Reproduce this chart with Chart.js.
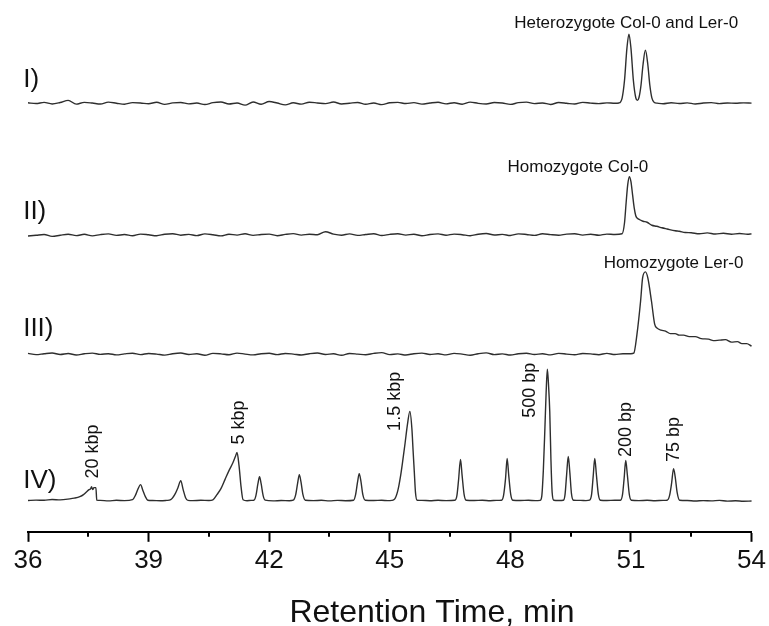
<!DOCTYPE html>
<html><head><meta charset="utf-8">
<script src="https://cdn.jsdelivr.net/npm/chart.js@4.4.1/dist/chart.umd.min.js"></script>
<style>html,body{margin:0;padding:0;background:#fff;}#wrap{width:769px;height:626px;}</style>
</head><body><div id="wrap"><canvas id="c" width="769" height="626"></canvas></div>
<script>
// ---------- DATA ----------
const xTicks = [36, 39, 42, 45, 48, 51, 54];
const minorTicks = [37.5, 40.5, 43.5, 46.5, 49.5, 52.5];
const axisTitle = 'Retention Time, min';
const traceLabels = ['I)', 'II)', 'III)', 'IV)'];
const peakNotes = ['Heterozygote Col-0 and Ler-0', 'Homozygote Col-0', 'Homozygote Ler-0'];
const ladderNotes = ['20 kbp', '5 kbp', '1.5 kbp', '500 bp', '200 bp', '75 bp'];

// Trace I : heterozygote (time, min / signal)
const t1 = [
 36.0,36.2,36.4,36.6,36.8,37.0,37.2,37.4,37.6,37.8,
 38.0,38.2,38.4,38.6,38.8,39.0,39.2,39.4,39.6,39.8,
 40.0,40.2,40.4,40.6,40.8,41.0,41.2,41.4,41.6,41.8,
 42.0,42.2,42.4,42.6,42.8,43.0,43.2,43.4,43.6,43.8,
 44.0,44.2,44.4,44.6,44.8,45.0,45.2,45.4,45.6,45.8,
 46.0,46.2,46.4,46.6,46.8,47.0,47.2,47.4,47.6,47.8,
 48.0,48.2,48.4,48.6,48.8,49.0,49.2,49.4,49.6,49.8,
 50.0,50.2,50.4,50.6,50.7,50.78,50.84,50.9,50.95,51.0,
 51.06,51.12,51.16,51.2,51.25,51.3,51.36,51.42,51.47,51.52,
 51.58,51.65,51.8,52.0,52.2,52.4,52.6,52.8,53.0,53.2,
 53.4,53.6,53.8,54.0];
const s1 = [
 0.6,-0.2,1.0,-0.6,0.8,3.0,-0.8,1.0,0.3,-0.7,
 1.2,0.1,-0.9,0.7,0.4,-0.4,1.1,-1.0,0.5,0.9,
 -0.5,0.3,-1.2,0.7,1.3,-0.6,0.4,-1.8,1.4,-0.9,
 1.8,0.3,-1.5,0.6,-0.8,1.1,0.4,-0.3,1.3,-0.6,
 0.1,0.9,-0.9,0.4,-1.3,0.6,1.0,-0.2,0.7,-0.8,
 0.3,1.1,-0.5,0.6,-0.9,1.2,0.0,-0.6,0.8,0.3,
 -1.0,0.7,1.2,-0.3,0.4,-1.1,0.8,0.1,-0.7,1.0,
 0.2,-0.3,0.5,0.1,0.4,5.3,23,55,69,55,
 23,5.6,3.0,5.8,18,38.5,53,38.5,18,5.5,
 0.9,0.2,-0.4,0.6,-0.2,0.5,-0.6,0.3,0.7,-0.3,
 0.4,0.1,0.5,0.2];

// Trace II : homozygote Col-0
const t2 = [
 36.0,36.2,36.4,36.6,36.8,37.0,37.2,37.4,37.6,37.8,
 38.0,38.2,38.4,38.6,38.8,39.0,39.2,39.4,39.6,39.8,
 40.0,40.2,40.4,40.6,40.8,41.0,41.2,41.4,41.6,41.8,
 42.0,42.2,42.4,42.6,42.8,43.0,43.2,43.4,43.6,43.8,
 44.0,44.2,44.4,44.6,44.8,45.0,45.2,45.4,45.6,45.8,
 46.0,46.2,46.4,46.6,46.8,47.0,47.2,47.4,47.6,47.8,
 48.0,48.2,48.4,48.6,48.8,49.0,49.2,49.4,49.6,49.8,
 50.0,50.2,50.4,50.6,50.78,50.84,50.88,50.92,50.96,51.0,
 51.04,51.08,51.12,51.16,51.22,51.3,51.4,51.52,51.64,51.77,
 51.9,52.1,52.2,52.35,52.5,52.7,52.9,53.1,53.3,53.5,
 53.7,53.9,54.0];
const s2 = [
 -1.2,-0.5,0.3,-1.6,-0.4,0.6,-0.8,0.5,-1.1,0.2,
 0.9,-0.6,0.3,-1.0,0.7,0.0,-0.9,0.6,1.1,-0.4,
 0.4,-0.8,0.9,0.1,-1.1,0.6,-0.3,1.0,-0.6,0.3,
 0.7,-0.9,0.4,1.2,-0.3,0.6,0.1,3.0,0.7,-0.4,
 0.9,-0.6,0.3,1.1,-0.7,0.4,1.0,-0.3,0.6,-1.0,
 0.3,0.9,-0.4,0.7,0.1,-0.9,0.6,1.3,-0.2,0.4,
 -0.7,0.9,0.3,-0.6,1.1,0.2,-0.4,0.7,1.0,-0.3,
 0.6,-0.4,0.7,0.3,1.0,12,32,50,58,53,
 40,27,19,16.5,15,13.5,12.5,9.5,8.5,7,
 5.8,4,3.5,2.3,2.0,1.0,1.9,0.8,1.5,0.6,
 1.3,0.5,0.9];

// Trace III : homozygote Ler-0
const t3 = [
 36.0,36.2,36.4,36.6,36.8,37.0,37.2,37.4,37.6,37.8,
 38.0,38.2,38.4,38.6,38.8,39.0,39.2,39.4,39.6,39.8,
 40.0,40.2,40.4,40.6,40.8,41.0,41.2,41.4,41.6,41.8,
 42.0,42.2,42.4,42.6,42.8,43.0,43.2,43.4,43.6,43.8,
 44.0,44.2,44.4,44.6,44.8,45.0,45.2,45.4,45.6,45.8,
 46.0,46.2,46.4,46.6,46.8,47.0,47.2,47.4,47.6,47.8,
 48.0,48.2,48.4,48.6,48.8,49.0,49.2,49.4,49.6,49.8,
 50.0,50.2,50.4,50.6,50.8,51.0,51.07,51.15,51.24,51.29,
 51.36,51.42,51.51,51.59,51.65,51.75,51.86,51.98,52.1,52.2,
 52.31,52.45,52.6,52.75,52.93,53.05,53.2,53.35,53.5,53.65,
 53.76,53.88,54.0];
const s3 = [
 0.8,-0.4,0.5,1.2,-0.3,0.7,-0.8,0.4,1.1,-0.2,
 0.5,-0.7,0.3,1.0,-0.4,0.7,0.1,-0.9,0.5,1.2,
 -0.3,0.4,-1.0,0.8,0.3,-0.6,1.1,0.1,-0.7,0.4,
 0.9,-0.4,0.7,0.1,-0.8,0.5,1.2,-0.3,0.4,-1.1,
 0.7,0.1,-0.6,0.8,1.6,-0.4,0.3,-0.8,0.5,1.1,
 -0.3,0.4,-0.7,0.8,0.1,-1.0,0.5,1.3,-0.4,0.3,
 -0.8,0.5,0.9,-0.3,0.4,-0.7,0.8,0.1,-0.6,0.7,
 0.3,-0.5,0.8,-0.3,0.5,0.4,1.0,20,53,76,
 82,76,53,30,26,24,23,20.5,20.5,19,
 19,17.5,17.5,15.5,15,13.5,14,14.5,12,12.5,
 10.5,10.5,8];

// Trace IV : size ladder
const t4 = [
 36.0,36.2,36.4,36.6,36.8,
 37.04,37.15,37.29,37.38,37.46,37.52,37.56,37.58,37.61,37.64,37.69,37.71,
 37.8,38.0,38.2,38.4,
 38.6,38.68,38.74,38.8,38.86,38.92,38.98,
 39.1,39.3,39.45,
 39.55,39.65,39.73,39.8,39.86,39.92,39.98,
 40.1,40.3,40.5,
 40.6,40.7,40.8,40.9,41.0,41.1,41.16,41.2,41.25,41.3,41.35,
 41.45,41.55,
 41.62,41.67,41.72,41.76,41.8,41.85,41.9,
 42.1,42.3,42.5,
 42.6,42.66,42.71,42.75,42.79,42.84,42.9,
 43.1,43.3,43.5,43.7,43.9,
 44.1,44.15,44.2,44.24,44.28,44.33,44.39,
 44.6,44.8,44.95,
 45.05,45.12,45.2,45.27,45.32,45.38,45.44,45.5,45.55,45.58,45.61,45.64,45.68,
 45.8,46.0,46.2,46.4,
 46.62,46.67,46.71,46.76,46.8,46.85,46.9,
 47.1,47.3,47.5,47.65,
 47.78,47.83,47.88,47.92,47.96,48.01,48.06,
 48.25,48.45,48.62,
 48.74,48.78,48.82,48.86,48.89,48.92,48.95,48.98,49.01,49.04,49.08,
 49.2,
 49.32,49.36,49.4,49.44,49.48,49.52,49.57,
 49.75,49.88,
 49.97,50.02,50.06,50.1,50.14,50.19,50.24,
 50.4,50.6,
 50.74,50.79,50.83,50.87,50.91,50.96,51.01,
 51.2,51.4,51.6,51.8,
 51.9,51.96,52.01,52.06,52.1,52.15,52.21,
 52.4,52.6,52.8,53.0,53.2,53.4,53.6,53.8,54.0];
const s4 = [
 0.2,0.6,0.4,1.2,0.8,
 1.8,2.5,4,6,9,11,12,14,11,13,13,0.6,
 0.3,-0.2,0.4,0.1,
 1,6,12,16,10,4,0.5,
 0.2,-0.1,0.3,
 1,6,13,20,11,3,0.3,
 0.1,0.4,0.2,
 0.8,6,12,21,30,38,44,48,35,14,1,
 0,0.3,
 0.5,5,17,24,17,5,0.5,
 -0.2,0.2,0,
 0.5,6,18,26,19,6,0.5,
 0.1,0.4,-0.2,0.3,0,
 0.5,6,19,27,20,6,0.5,
 0.2,0.4,0.1,
 0.3,1.5,10,25,39,57,76,89,72,50,29,8,0.5,
 0.3,0,0.4,0.1,
 0.5,5,20,41,25,6,0.5,
 0.2,0.5,0,0.3,
 0.5,5,22,42,25,6,0.5,
 0.2,0.4,0.1,
 0.3,4,30,73,108,131,115,89,40,8,0.5,
 0.2,
 0.5,6,26,44,28,7,0.5,
 0.3,0.1,
 0.5,6,24,42,26,6,0.5,
 0.2,0.4,
 0.5,6,22,40,26,6,0.5,
 0.1,0.4,0,0.3,
 0.5,5,17,32,24,8,0.5,
 0.2,-0.3,0.1,-0.2,0.3,-0.4,-0.1,-0.5,-0.3];

// ---------- LAYOUT / STYLE ----------
const FONT = "'Liberation Sans', Arial, Helvetica, sans-serif";
const traceOffsets = [427, 296, 177, 31];          // vertical stacking of the traces (y-units)
const romanAnchors = [[35.88, 443.5], [35.88, 312], [35.88, 195], [35.88, 44]];
const peakAnchors = [[50.88, 501.7], [49.68, 359], [52.06, 263.3]];
const ladderAnchors = [[37.61, 80], [41.26, 109], [45.14, 130], [48.49, 141], [50.87, 102], [52.06, 92]];
const titleAnchor = [46.05, -90];

function series(t, s, off) {
  const n = Math.min(t.length, s.length);
  const out = [];
  for (let i = 0; i < n; i++) out.push({ x: t[i], y: s[i] + off });
  return out;
}

const overlay = {
  id: 'overlay',
  afterDraw(chart) {
    const { ctx, scales: { x, y }, chartArea } = chart;
    ctx.save();
    // minor ticks
    ctx.strokeStyle = '#000';
    ctx.lineWidth = 2;
    minorTicks.forEach(v => {
      const px = Math.round(x.getPixelForValue(v));
      ctx.beginPath();
      ctx.moveTo(px, chartArea.bottom);
      ctx.lineTo(px, chartArea.bottom + 5);
      ctx.stroke();
    });
    ctx.fillStyle = '#111';
    // roman numerals
    ctx.font = '26px ' + FONT;
    ctx.textAlign = 'left';
    ctx.textBaseline = 'alphabetic';
    traceLabels.forEach((txt, i) => {
      ctx.fillText(txt, x.getPixelForValue(romanAnchors[i][0]), y.getPixelForValue(romanAnchors[i][1]));
    });
    // peak notes
    ctx.font = '17px ' + FONT;
    ctx.textAlign = 'center';
    peakNotes.forEach((txt, i) => {
      ctx.fillText(txt, x.getPixelForValue(peakAnchors[i][0]), y.getPixelForValue(peakAnchors[i][1]));
    });
    // ladder notes (rotated)
    ctx.font = '18px ' + FONT;
    ctx.textBaseline = 'middle';
    ladderNotes.forEach((txt, i) => {
      ctx.save();
      ctx.translate(x.getPixelForValue(ladderAnchors[i][0]), y.getPixelForValue(ladderAnchors[i][1]));
      ctx.rotate(-Math.PI / 2);
      ctx.fillText(txt, 0, 0);
      ctx.restore();
    });
    // axis title
    ctx.font = '32px ' + FONT;
    ctx.textBaseline = 'alphabetic';
    ctx.textAlign = 'center';
    ctx.fillText(axisTitle, x.getPixelForValue(titleAnchor[0]), y.getPixelForValue(titleAnchor[1]));
    ctx.restore();
  }
};

const lineStyle = { borderColor: '#2e2e2e', borderWidth: 1.4, pointRadius: 0, fill: false,
  cubicInterpolationMode: 'monotone', clip: false };

new Chart(document.getElementById('c'), {
  type: 'line',
  data: {
    datasets: [
      Object.assign({ label: traceLabels[0], data: series(t1, s1, traceOffsets[0]) }, lineStyle),
      Object.assign({ label: traceLabels[1], data: series(t2, s2, traceOffsets[1]) }, lineStyle),
      Object.assign({ label: traceLabels[2], data: series(t3, s3, traceOffsets[2]) }, lineStyle),
      Object.assign({ label: traceLabels[3], data: series(t4, s4, traceOffsets[3]) }, lineStyle)
    ]
  },
  options: {
    responsive: false,
    animation: false,
    devicePixelRatio: 1,
    parsing: false,
    layout: { padding: { left: 28, right: 16, top: 0, bottom: 47 } },
    plugins: { legend: { display: false }, tooltip: { enabled: false }, title: { display: false } },
    scales: {
      x: {
        type: 'linear', min: 36, max: 54,
        afterBuildTicks: axis => { axis.ticks = xTicks.map(v => ({ value: v })); },
        ticks: { font: { family: FONT, size: 26 }, color: '#111', padding: 3, maxRotation: 0, autoSkip: false },
        grid: { drawOnChartArea: false, drawTicks: true, tickLength: 10, tickWidth: 2, tickColor: '#000' },
        border: { display: true, color: '#000', width: 2 }
      },
      y: { display: false, min: 0, max: 530 }
    }
  },
  plugins: [overlay]
});
</script>
</body></html>
